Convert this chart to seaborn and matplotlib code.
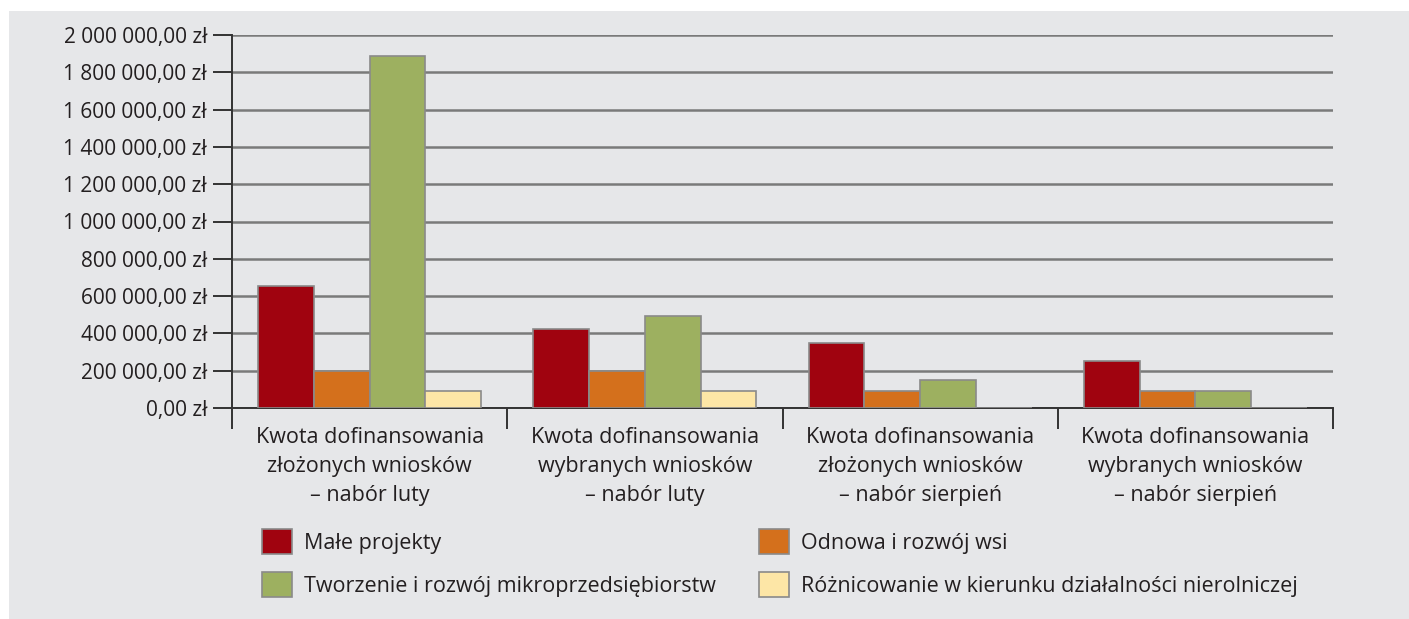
import numpy as np
import pandas as pd
import matplotlib
matplotlib.use("Agg")
import matplotlib.pyplot as plt
import seaborn as sns
from matplotlib.patches import Rectangle
from matplotlib.ticker import FuncFormatter

# data
categories = [
    "Kwota dofinansowania\nzłożonych wniosków\n– nabór luty",
    "Kwota dofinansowania\nwybranych wniosków\n– nabór luty",
    "Kwota dofinansowania\nzłożonych wniosków\n– nabór sierpień",
    "Kwota dofinansowania\nwybranych wniosków\n– nabór sierpień",
]
series = [
    "Małe projekty",
    "Odnowa i rozwój wsi",
    "Tworzenie i rozwój mikroprzedsiębiorstw",
    "Różnicowanie w kierunku działalności nierolniczej",
]
male_projekty = [655000, 425000, 350000, 250000]
odnowa = [200000, 200000, 93000, 93000]
mikro = [1890000, 495000, 152000, 93000]
roznicowanie = [90000, 90000, 0, 0]
colors = ["#a0030f", "#d4701c", "#9db060", "#fde6a6"]

rows = []
for s, vals in zip(series, [male_projekty, odnowa, mikro, roznicowanie]):
    for c, v in zip(categories, vals):
        rows.append({"kat": c, "seria": s, "kwota": v})
df = pd.DataFrame(rows)

sns.set_style("white")
plt.rcParams["font.family"] = ["Open Sans", "DejaVu Sans"]

fig = plt.figure(figsize=(14.09, 6.19), dpi=100, facecolor="white")
bg = "#e6e7e9"
fig.patches.append(Rectangle((9 / 1409, 0), 1, 1 - 11 / 619, transform=fig.transFigure,
                             facecolor=bg, edgecolor="none", zorder=-10))
ax = fig.add_axes([232 / 1409, 211 / 619, 1101 / 1409, 373 / 619])
ax.set_facecolor(bg)

sns.barplot(data=df, x="kat", y="kwota", hue="seria", palette=colors, width=0.81,
            edgecolor="#8a8a8a", linewidth=1.2, saturation=1, ax=ax, legend=True, zorder=3)

ax.set_xlim(-0.5, 3.5)
ax.set_ylim(0, 2000000)
ax.set_yticks(np.arange(0, 2000001, 200000))
ax.yaxis.set_major_formatter(FuncFormatter(
    lambda v, p: f"{v:,.2f}".replace(",", " ").replace(".", ",") + " zł"))
ax.set_xlabel("")
ax.set_ylabel("")

ax.grid(axis="y", color="#7a7a7a", linewidth=1.8, zorder=0)
for s in ["top", "right"]:
    ax.spines[s].set_visible(False)
for s in ["left", "bottom"]:
    ax.spines[s].set_color("#333333")
    ax.spines[s].set_linewidth(1.4)

ax.tick_params(axis="y", direction="out", length=14, width=1.4, color="#333333",
               labelsize=15, labelcolor="#231f20", pad=4, left=True)
ax.set_xticks([0, 1, 2, 3])
ax.set_xticklabels(categories)
ax.set_xticks([-0.5, 0.5, 1.5, 2.5, 3.5], minor=True)
ax.tick_params(axis="x", which="major", length=0, labelsize=15.5, labelcolor="#231f20", pad=14)
ax.tick_params(axis="x", which="minor", direction="out", length=15, width=1.4, color="#333333", bottom=True)
for lbl in ax.get_xticklabels():
    lbl.set_linespacing(1.5)

handles, labels = ax.get_legend_handles_labels()
ax.get_legend().remove()
order = [0, 2, 1, 3]  # rows: Małe | Odnowa, Tworzenie | Różnicowanie
leg = fig.legend([handles[i] for i in order], [labels[i] for i in order], ncol=2,
                 loc="upper left", bbox_to_anchor=(262 / 1409, 1 - 529 / 619),
                 frameon=False, fontsize=15.5, handlelength=1.4, handleheight=1.4,
                 borderpad=0, borderaxespad=0,
                 columnspacing=2.0, labelspacing=0.85, handletextpad=0.55)
for t in leg.get_texts():
    t.set_color("#231f20")

fig.savefig("out.png", dpi=100, facecolor="white")
